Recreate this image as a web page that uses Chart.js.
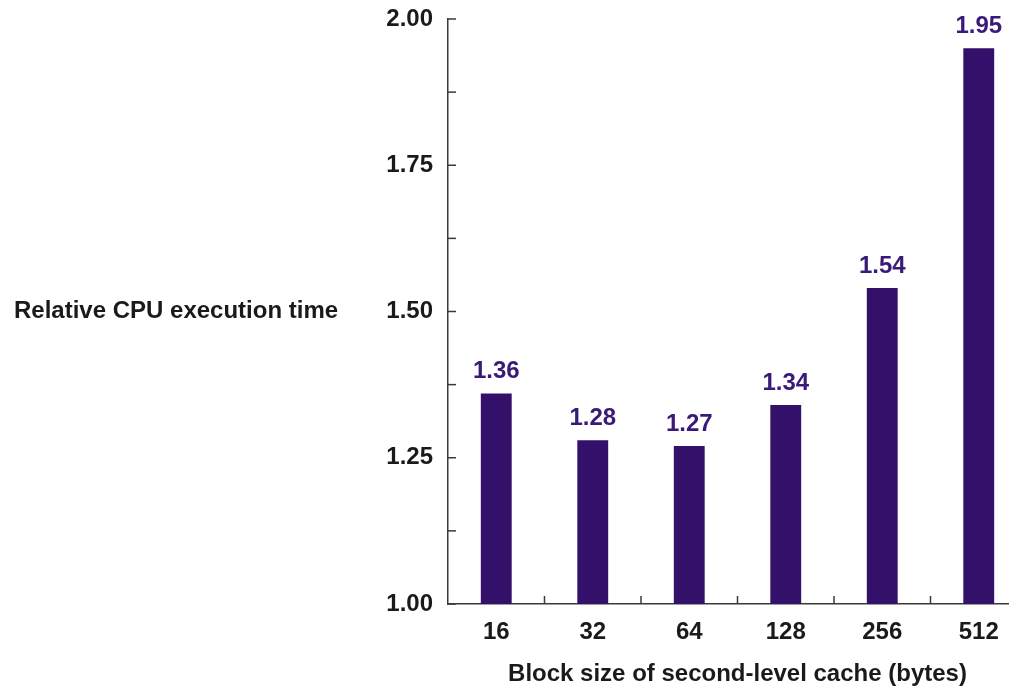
<!DOCTYPE html>
<html>
<head>
<meta charset="utf-8">
<script src="https://cdn.jsdelivr.net/npm/chart.js@4"></script>
<style>
  html, body { margin: 0; padding: 0; background: #fff; overflow: hidden; }
  #wrap { width: 1030px; height: 686px; }
</style>
</head>
<body>
<div id="wrap"><canvas id="grafico" width="1030" height="686"></canvas></div>
<script>
const categorias = ["16", "32", "64", "128", "256", "512"];
const tiempos = [1.36, 1.28, 1.27, 1.34, 1.54, 1.95];
const etiquetas = ["1.36", "1.28", "1.27", "1.34", "1.54", "1.95"];
const tituloY = "Relative CPU execution time";
const tituloX = "Block size of second-level cache (bytes)";

const FUENTE = '"Liberation Sans", Arial, sans-serif';
const MORADO = '#331069';
const EJE = '#3a3a3a';

// marcas cortas hacia dentro, etiquetas de valor y titulo horizontal del eje y
const extras = {
    id: 'extras',
    afterDraw(chart) {
        const ctx = chart.ctx;
        const x = chart.scales.x;
        const y = chart.scales.y;
        const area = chart.chartArea;
        ctx.save();
        ctx.strokeStyle = EJE;
        ctx.lineWidth = 1.5;
        y.ticks.forEach(t => {
            const py = y.getPixelForValue(t.value);
            ctx.beginPath();
            ctx.moveTo(area.left, py);
            ctx.lineTo(area.left + 8, py);
            ctx.stroke();
        });
        for (let i = 1; i < categorias.length; i++) {
            const px = (x.getPixelForTick(i - 1) + x.getPixelForTick(i)) / 2;
            ctx.beginPath();
            ctx.moveTo(px, area.bottom);
            ctx.lineTo(px, area.bottom - 8);
            ctx.stroke();
        }

        ctx.fillStyle = '#3a1a78';
        ctx.font = 'bold 24px ' + FUENTE;
        ctx.textAlign = 'center';
        ctx.textBaseline = 'alphabetic';
        chart.getDatasetMeta(0).data.forEach((barra, i) => {
            ctx.fillText(etiquetas[i], barra.x, barra.y - 15);
        });

        ctx.fillStyle = '#1a1a1a';
        ctx.textAlign = 'left';
        ctx.textBaseline = 'middle';
        ctx.fillText(tituloY, 14, (area.top + area.bottom) / 2);
        ctx.restore();
    }
};

const grafico = new Chart(document.getElementById('grafico').getContext('2d'), {
    type: 'bar',
    data: {
        labels: categorias,
        datasets: [{
            data: tiempos,
            backgroundColor: MORADO,
            borderWidth: 0,
            barPercentage: 0.32,
            categoryPercentage: 1
        }]
    },
    options: {
        responsive: false,
        animation: false,
        layout: { padding: { top: 19, right: 3, left: 0, bottom: 0 } },
        plugins: {
            legend: { display: false },
            tooltip: { enabled: false }
        },
        scales: {
            x: {
                offset: true,
                grid: { display: false, drawTicks: false },
                border: { display: true, color: EJE, width: 1.5 },
                ticks: {
                    color: '#1a1a1a',
                    padding: 14,
                    font: { family: FUENTE, size: 24, weight: 'bold' }
                },
                title: {
                    display: true,
                    text: tituloX,
                    color: '#1a1a1a',
                    padding: { top: -3, bottom: 0 },
                    font: { family: FUENTE, size: 24, weight: 'bold', lineHeight: 1 }
                },
                afterFit(scale) {
                    scale.height = 82;
                    scale.paddingLeft = 0;
                    scale.paddingRight = 0;
                }
            },
            y: {
                min: 1,
                max: 2,
                grid: { display: false, drawTicks: false },
                border: { display: true, color: EJE, width: 1.5 },
                ticks: {
                    stepSize: 0.125,
                    autoSkip: false,
                    color: '#1a1a1a',
                    padding: 15,
                    font: { family: FUENTE, size: 24, weight: 'bold' },
                    callback: (v) => (Math.abs(v * 4 - Math.round(v * 4)) < 1e-6 ? v.toFixed(2) : '')
                },
                afterFit(scale) {
                    scale.width = 448;
                    scale.paddingTop = 0;
                    scale.paddingBottom = 0;
                }
            }
        }
    },
    plugins: [extras]
});
</script>
</body>
</html>
